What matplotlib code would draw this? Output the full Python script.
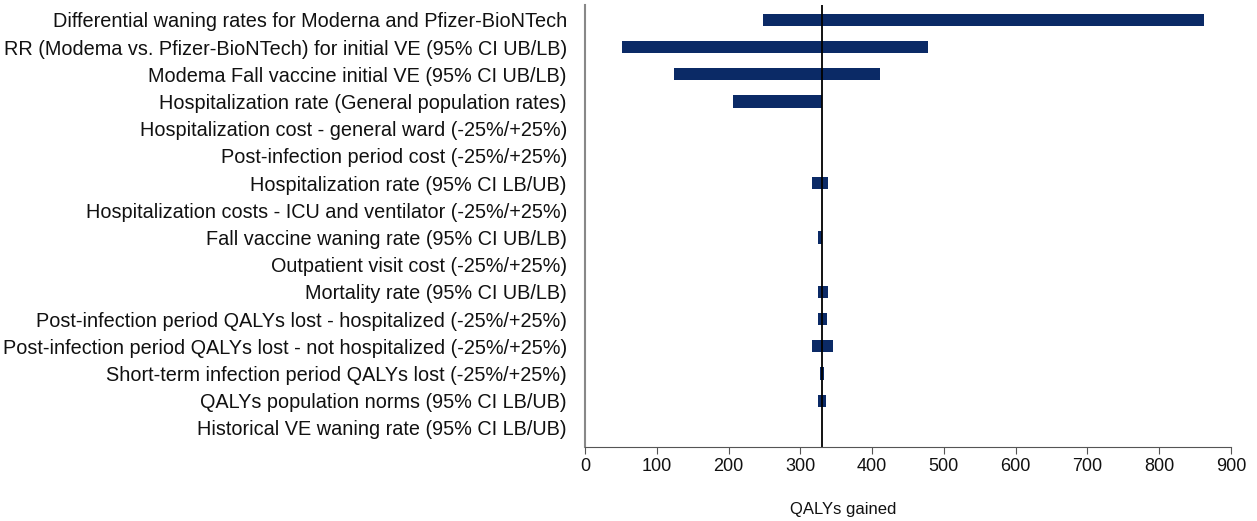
import matplotlib
matplotlib.use("Agg")
import matplotlib.pyplot as plt

plt.rcParams["font.family"] = ["Liberation Sans", "DejaVu Sans"]

labels = [
    "Differential waning rates for Moderna and Pfizer-BioNTech",
    "RR (Modema vs. Pfizer-BioNTech) for initial VE (95% CI UB/LB)",
    "Modema Fall vaccine initial VE (95% CI UB/LB)",
    "Hospitalization rate (General population rates)",
    "Hospitalization cost - general ward (-25%/+25%)",
    "Post-infection period cost (-25%/+25%)",
    "Hospitalization rate (95% CI LB/UB)",
    "Hospitalization costs - ICU and ventilator (-25%/+25%)",
    "Fall vaccine waning rate (95% CI UB/LB)",
    "Outpatient visit cost (-25%/+25%)",
    "Mortality rate (95% CI UB/LB)",
    "Post-infection period QALYs lost - hospitalized (-25%/+25%)",
    "Post-infection period QALYs lost - not hospitalized (-25%/+25%)",
    "Short-term infection period QALYs lost (-25%/+25%)",
    "QALYs population norms (95% CI LB/UB)",
    "Historical VE waning rate (95% CI LB/UB)",
]
low = [248, 52, 124, 206, 330, 330, 316, 330, 325, 330, 324, 324, 316, 328, 325, 330]
high = [863, 478, 411, 330, 330, 330, 339, 330, 330, 330, 339, 337, 345, 333, 336, 330]
base = 330

fig = plt.figure(figsize=(12.57, 5.21), dpi=100)
ax = fig.add_axes([0.4654, 0.142, 0.5139, 0.8486])

ypos = list(range(len(labels)))
widths = [h - l for l, h in zip(low, high)]
ax.barh(ypos, widths, left=low, height=0.45, color="#0b2a66")
ax.axvline(base, color="black", lw=1.3)

ax.set_xlim(0, 900)
ax.set_ylim(15.7, -0.55)
ax.set_xticks(range(0, 1000, 100))
ax.set_yticks(ypos)
ax.set_yticklabels(labels, fontsize=14.3, color="#111111")
ax.tick_params(axis="y", length=0, pad=13)
ax.tick_params(axis="x", labelsize=13, length=5, color="#555555", pad=3, labelcolor="#111111")

for s in ["top", "right"]:
    ax.spines[s].set_visible(False)
ax.spines["left"].set_color("#888888")
ax.spines["left"].set_linewidth(1.5)
ax.spines["bottom"].set_color("#555555")

ax.set_xlabel("QALYs gained", fontsize=12, color="#111111")
ax.xaxis.set_label_coords(0.40, -0.125)

fig.savefig("out.png", dpi=100)
